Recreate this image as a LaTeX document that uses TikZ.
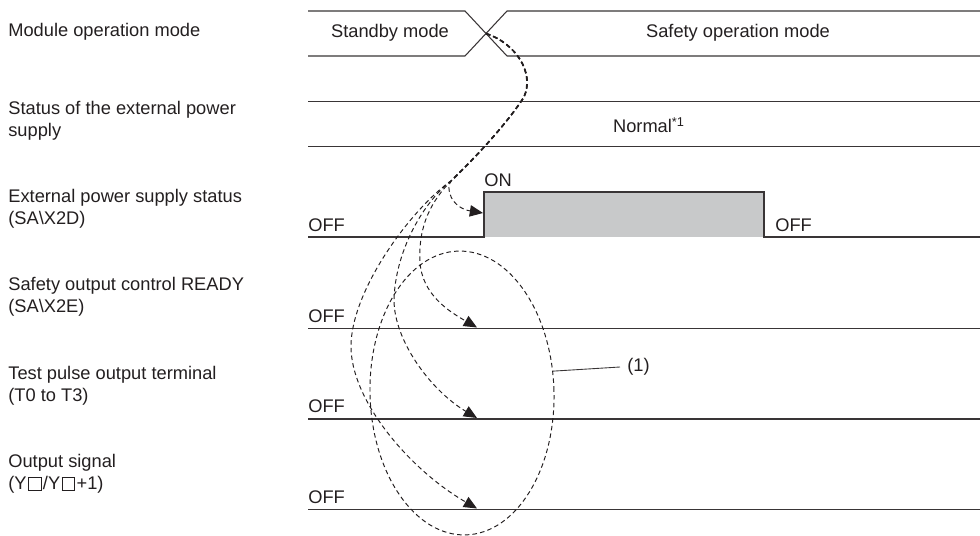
\documentclass[tikz,border=0pt]{standalone}
\usepackage{fontspec}
\setmainfont{Liberation Sans}
\usetikzlibrary{arrows.meta,shapes.geometric}
\definecolor{ink}{HTML}{231F20}
\definecolor{pulsefill}{HTML}{C8C9CA}
\newcommand{\emptybox}{\kern0.08em{\setlength{\fboxsep}{0pt}\setlength{\fboxrule}{0.5pt}\fbox{\rule{0pt}{0.64em}\hspace{0.64em}}}\kern0.08em}

\begin{document}
\begin{tikzpicture}[x=0.02cm, y=-0.02cm,
  every node/.style={font=\fontsize{10.4}{12.3}\selectfont, text=ink, inner sep=0pt},
  rowname/.style={anchor=west, align=left},
  level/.style={anchor=west},
  sigline/.style={draw=ink!90, line width=0.6pt},
  flowline/.style={draw=ink, line width=0.55pt, dash pattern=on 2.6pt off 1.8pt},
  flowarrow/.style={flowline, -{Triangle[length=7.5pt, width=6.5pt]}}]
\useasboundingbox (0,0) rectangle (980,536);
% row names
\node[rowname] (nmode) at (8,32) {Module operation mode};
\node[rowname] (nsupply) at (8,121) {Status of the external power\\supply};
\node[rowname] (nx2d) at (8,209) {External power supply status\\(SA\textbackslash X2D)};
\node[rowname] (nx2e) at (8,297) {Safety output control READY\\(SA\textbackslash X2E)};
\node[rowname] (ntest) at (8,386) {Test pulse output terminal\\(T0 to T3)};
\node[rowname] (nout) at (8,474) {Output signal\\(Y\emptybox/Y\emptybox+1)};
% module operation mode
\draw[sigline] (308,11) -- (465,11) -- (507,56) -- (980,56);
\draw[sigline] (308,56) -- (465,56) -- (507,11) -- (980,11);
\coordinate (xing) at (486,33.5);
\node (standby) at (390,33) {Standby mode};
\node (safemode) at (738,33) {Safety operation mode};
% external power supply
\draw[sigline] (308,101.5) -- (980,101.5);
\draw[sigline] (308,146.5) -- (980,146.5);
\node (normal) at (649,125) {Normal\textsuperscript{*1}};
% SA\X2D
\fill[pulsefill] (484,192) rectangle (764,237);
\draw[sigline] (308,237) -- (484,237) -- (484,192) -- (764,192) -- (764,237) -- (980,237);
\node[level] (on) at (484,180) {ON};
\node[level] (off1) at (308,225) {OFF};
\node[level] (off2) at (775,225) {OFF};
\coordinate (tpulse) at (483,213);
% SA\X2E, T0 to T3, Y
\draw[sigline] (308,328.5) -- (980,328.5);
\draw[sigline] (308,419) -- (980,419);
\draw[sigline] (308,509.5) -- (980,509.5);
\node[level] (off3) at (308,316.5) {OFF};
\node[level] (off4) at (308,406.5) {OFF};
\node[level] (off5) at (308,497) {OFF};
\coordinate (tready) at (477,327.5);
\coordinate (ttest) at (477,418);
\coordinate (tout) at (477,508.5);
% flow of the mode change
\coordinate (fork) at (452,180);
\draw[flowline, line width=1pt] (xing) .. controls (515,43) and (535,72) .. (524,97)
  .. controls (508,122) and (478,155) .. (fork);
\draw[flowarrow] (xing) .. controls (515,43) and (535,72) .. (524,97)
  .. controls (508,122) and (478,155) .. (fork)
  .. controls (444,188) and (452,208) .. (tpulse);
\draw[flowarrow] (xing) .. controls (515,43) and (535,72) .. (524,97)
  .. controls (508,122) and (478,155) .. (fork)
  .. controls (432,200) and (418,225) .. (420,262)
  .. controls (422,295) and (450,312) .. (tready);
\draw[flowarrow] (xing) .. controls (515,43) and (535,72) .. (524,97)
  .. controls (508,122) and (478,155) .. (fork)
  .. controls (420,205) and (395,255) .. (394,300)
  .. controls (394,340) and (430,390) .. (ttest);
\draw[flowarrow] (xing) .. controls (515,43) and (535,72) .. (524,97)
  .. controls (508,122) and (478,155) .. (fork)
  .. controls (410,210) and (352,290) .. (351,345)
  .. controls (350,400) and (410,470) .. (tout);
% group (1)
\node[ellipse, flowline, minimum width=3.68cm, minimum height=5.68cm, rotate=1.5] (grp) at (462,393) {};
\node[level, inner xsep=4pt] (grplabel) at (620,367) {(1)};
\draw[sigline, line width=0.5pt] (grp.12) -- (grplabel.west);
\end{tikzpicture}
\end{document}
